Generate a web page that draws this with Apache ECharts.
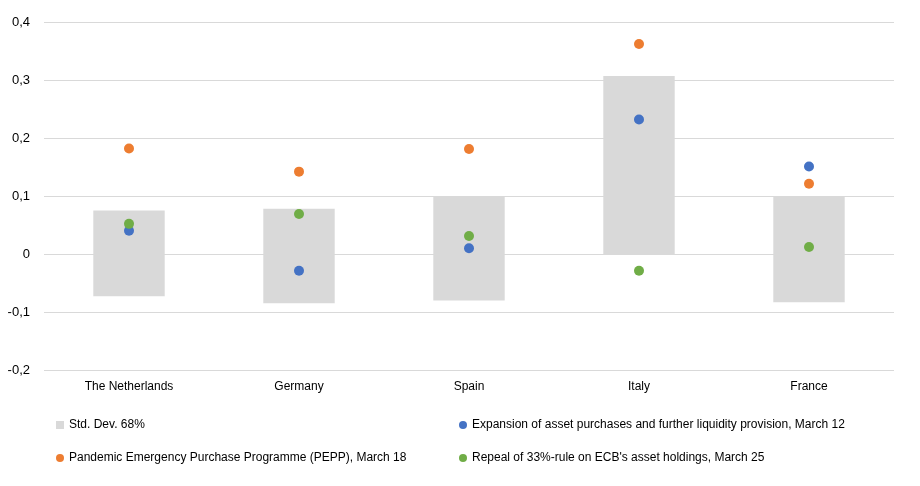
<!DOCTYPE html>
<html>
<head>
<meta charset="utf-8">
<script src="https://cdn.jsdelivr.net/npm/echarts@6/dist/echarts.min.js"></script>
<style>
  html, body { margin: 0; padding: 0; background: #fff; }
  #chart { width: 920px; height: 486px; }
</style>
</head>
<body>
<div id="chart"></div>
<script>
const countries = ['The Netherlands', 'Germany', 'Spain', 'Italy', 'France'];
// std. dev. band: lower and upper edge
const bandLow = [-0.073, -0.085, -0.08, 0, -0.083];
const bandHigh = [0.075, 0.078, 0.1, 0.307, 0.099];
const expansion = [0.04, -0.029, 0.01, 0.232, 0.151];
const pepp = [0.182, 0.142, 0.181, 0.362, 0.121];
const repeal = [0.052, 0.069, 0.031, -0.029, 0.012];

const FONT = 'Liberation Sans';
const bandSize = bandHigh.map((h, i) => +(h - bandLow[i]).toFixed(4));

const chart = echarts.init(document.getElementById('chart'), null, { renderer: 'canvas' });

const legendText = { fontFamily: FONT, fontSize: 12, color: '#000' };
function legendAt(name, icon, left, top) {
  return {
    data: [{ name: name, icon: icon, itemStyle: { opacity: 1 } }],
    left: left, top: top, padding: 0,
    itemWidth: 8, itemHeight: 8, itemGap: 0,
    textStyle: legendText,
    selectedMode: false
  };
}

chart.setOption({
  animation: false,
  grid: { left: 44, right: 26, top: 22, bottom: 116 },
  legend: [
    legendAt('Std. Dev. 68%', 'rect', 56, 419),
    legendAt('Expansion of asset purchases and further liquidity provision, March 12', 'circle', 459, 419),
    legendAt('Pandemic Emergency Purchase Programme (PEPP), March 18', 'circle', 56, 452),
    legendAt("Repeal of 33%-rule on ECB's asset holdings, March 25", 'circle', 459, 452)
  ],
  xAxis: {
    type: 'category',
    data: countries,
    axisLine: { show: false },
    axisTick: { show: false },
    axisLabel: { fontFamily: FONT, fontSize: 12, color: '#000', margin: 11 }
  },
  yAxis: {
    type: 'value',
    min: -0.2, max: 0.4, interval: 0.1,
    axisLine: { show: false },
    axisTick: { show: false },
    splitLine: { lineStyle: { color: '#d9d9d9', width: 1 } },
    axisLabel: {
      fontFamily: FONT, fontSize: 13, color: '#000', margin: 14,
      formatter: v => (Math.round(v * 10) / 10).toString().replace('.', ',')
    }
  },
  series: [
    {
      type: 'bar', stack: 'band', stackStrategy: 'all',
      data: bandLow, barWidth: '42%',
      itemStyle: { color: 'transparent' },
      silent: true
    },
    {
      name: 'Std. Dev. 68%',
      type: 'bar', stack: 'band', stackStrategy: 'all',
      data: bandSize, barWidth: '42%',
      itemStyle: { color: '#d9d9d9' }
    },
    {
      name: 'Expansion of asset purchases and further liquidity provision, March 12',
      type: 'scatter', data: expansion, symbolSize: 10,
      itemStyle: { color: '#4472c4', opacity: 1 }
    },
    {
      name: 'Pandemic Emergency Purchase Programme (PEPP), March 18',
      type: 'scatter', data: pepp, symbolSize: 10,
      itemStyle: { color: '#ed7d31', opacity: 1 }
    },
    {
      name: "Repeal of 33%-rule on ECB's asset holdings, March 25",
      type: 'scatter', data: repeal, symbolSize: 10,
      itemStyle: { color: '#70ad47', opacity: 1 }
    }
  ]
});
</script>
</body>
</html>
